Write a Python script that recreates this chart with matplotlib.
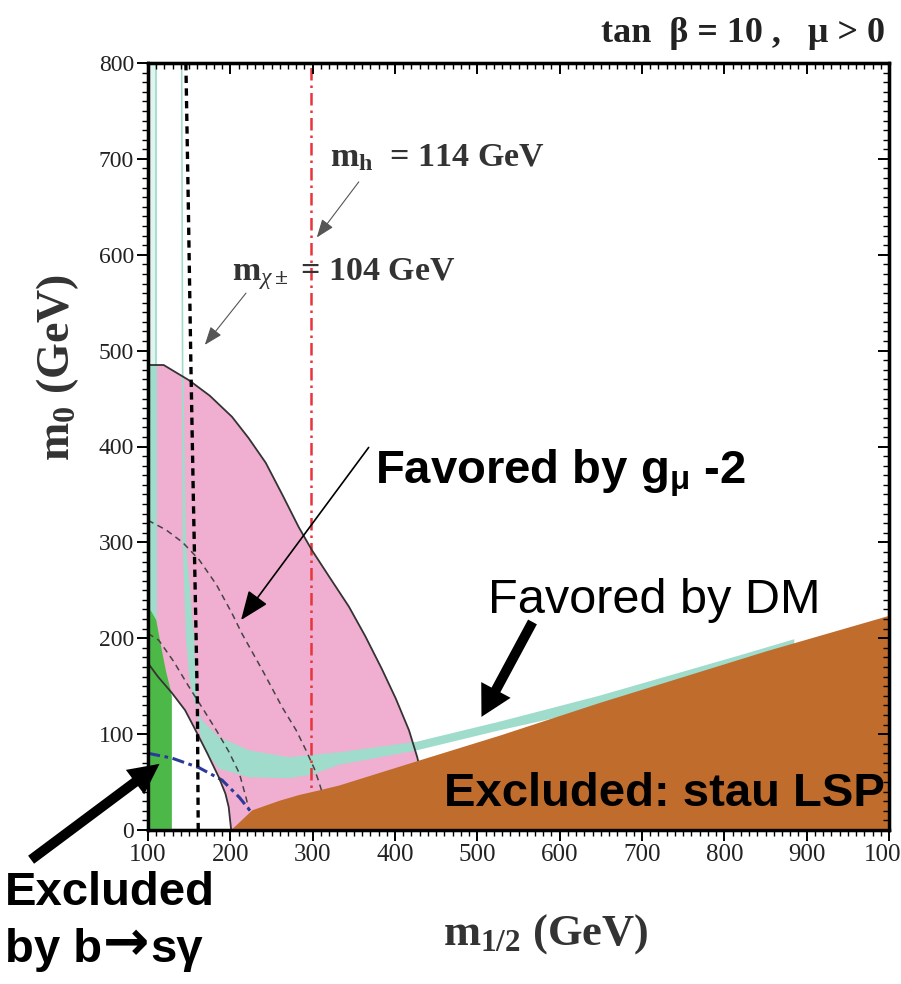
import matplotlib
matplotlib.use("Agg")
import matplotlib.pyplot as plt
from matplotlib.ticker import MultipleLocator

plt.rcParams.update({
    "mathtext.fontset": "custom",
    "mathtext.rm": "Liberation Serif:bold",
    "mathtext.bf": "Liberation Serif:bold",
    "mathtext.it": "Liberation Serif:italic",
    "mathtext.sf": "Liberation Sans:bold",
})

# ---- constraint contours in the (m_1/2, m0) plane, GeV ----
# g_mu - 2 favoured band: outer and inner boundaries
g2_outer_x = [100, 119, 150, 175, 202, 222, 243, 263, 283, 299, 321, 344, 364, 384, 401, 417, 427, 434, 440]
g2_outer_y = [485, 485, 469, 453, 431, 409, 383, 350, 316, 292, 263, 233, 202, 168, 137, 104, 76, 50, 0]
g2_inner_x = [100, 112, 129, 145, 156, 172, 186, 194, 198, 201]
g2_inner_y = [174, 160, 143, 125, 107, 80, 55, 38, 24, 0]

# dashed sub-contours inside the g-2 band
g2_dash1_x = [100, 122, 142, 162, 183, 202, 214, 240, 263, 280, 292, 302, 308, 313]
g2_dash1_y = [323, 313, 300, 282, 256, 226, 205, 165, 128, 104, 83, 64, 49, 35]
g2_dash2_x = [100, 113, 131, 150, 167, 183, 198, 211, 219, 223]
g2_dash2_y = [205, 198, 176, 149, 126, 104, 82, 59, 34, 20]

# stau LSP excluded region (upper edge)
stau_x = [200, 210, 226, 259, 283, 308, 332, 429, 527, 648, 851, 1000]
stau_y = [0, 8, 21, 31, 37, 42, 47, 73, 99, 133, 187, 224]

# dark-matter favoured strip: upper/left and lower/right edges
dm_upper_x = [140, 141, 142, 146, 150, 156, 165, 186, 223, 271, 332, 426, 527, 648, 818, 885]
dm_upper_y = [800, 485, 300, 200, 160, 135, 115, 97, 83, 76, 81, 92, 113, 140, 182, 199]
dm_lower_x = [141.8, 143, 146, 156, 158, 160, 163, 172, 186, 223, 271, 300, 332, 426, 527, 600, 700, 818, 885]
dm_lower_y = [800, 485, 300, 200, 160, 125, 100, 80, 64, 55, 54, 58, 68, 83, 104, 118, 144, 174, 193]
dm_pole_x = [100, 110]          # narrow strip at low m_1/2
dm_pole_y = [0, 485, 800]

# b -> s gamma excluded region
bsg_x = [100, 100, 104, 110, 116, 122, 127, 129, 129]
bsg_y = [0, 232, 228, 219, 191, 165, 148, 139, 0]

# chargino (104 GeV) and Higgs (114 GeV) mass limits
chi_x = [146, 149, 152, 155, 158, 160, 161]
chi_y = [800, 650, 490, 350, 220, 130, 0]
higgs_x = [298, 298]
higgs_y = [0, 800]

# additional dash-dotted contour
blue_x = [100, 129, 162, 190, 211, 225, 228]
blue_y = [80, 75, 65, 52, 34, 19, 15]

PINK = "#f0afd0"
TEAL = "#9fdccb"
GREEN = "#4cb848"
BROWN = "#c06c2d"

W, H = 901, 984
fig = plt.figure(figsize=(W / 100, H / 100), dpi=100)
ax = fig.add_axes([148 / W, 1 - 830 / H, (889 - 148) / W, (830 - 63) / H])
ax.set_xlim(100, 1000)
ax.set_ylim(0, 800)


def fx(px):
    return px / W


def fy(py):
    return 1 - py / H


# g-2 band: between outer and inner contours
band_x = g2_outer_x + g2_inner_x[::-1]
band_y = g2_outer_y + g2_inner_y[::-1]
ax.fill(band_x, band_y, color=PINK, lw=0, zorder=1)

# dark-matter strips
ax.fill(dm_upper_x + dm_lower_x[::-1], dm_upper_y + dm_lower_y[::-1],
        color=TEAL, lw=0, zorder=2)
ax.fill_betweenx([dm_pole_y[0], dm_pole_y[1]], dm_pole_x[0], dm_pole_x[1],
                 color=TEAL, lw=0, zorder=2)
ax.fill_betweenx([dm_pole_y[1], dm_pole_y[2]], dm_pole_x[0], dm_pole_x[1],
                 color=TEAL, alpha=0.3, lw=0, zorder=2)
ax.plot([dm_pole_x[1], dm_pole_x[1]], [dm_pole_y[0], dm_pole_y[2]],
        color=TEAL, lw=1.3, zorder=2)

# b -> s gamma
ax.fill(bsg_x, bsg_y, color=GREEN, lw=0, zorder=3)

# contour lines
ax.plot(higgs_x, higgs_y, color="#e8343a", lw=1.8,
        dashes=(5, 2, 1, 2), zorder=4)
ax.plot(g2_dash1_x, g2_dash1_y, color="#444444", lw=1.1, dashes=(4, 3), zorder=4)
ax.plot(g2_dash2_x, g2_dash2_y, color="#444444", lw=1.1, dashes=(4, 3), zorder=4)
ax.plot(blue_x, blue_y, color="#2b3a9a", lw=2.2, dashes=(4, 1.5, 1.2, 1.5), zorder=4)
ax.plot(g2_outer_x, g2_outer_y, color="#333333", lw=1.3, zorder=4)
ax.plot(g2_inner_x, g2_inner_y, color="#333333", lw=1.3, zorder=4)
ax.plot(chi_x, chi_y, color="black", lw=2.4, dashes=(2.2, 1.6), zorder=4)

# stau LSP
ax.fill_between(stau_x, 0, stau_y, color=BROWN, lw=0, zorder=5)

# ---- axes styling ----
for s in ax.spines.values():
    s.set_linewidth(2.3)
ax.xaxis.set_major_locator(MultipleLocator(100))
ax.xaxis.set_minor_locator(MultipleLocator(10))
ax.yaxis.set_major_locator(MultipleLocator(100))
ax.yaxis.set_minor_locator(MultipleLocator(10))
ax.tick_params(which="major", direction="out", length=8, width=1.4, pad=2,
               labelcolor="#222222")
ax.tick_params(which="minor", direction="out", length=4, width=1.0)
for lab in ax.get_xticklabels():
    lab.set_fontfamily("Liberation Serif")
    lab.set_fontsize(18)
for lab in ax.get_yticklabels():
    lab.set_fontfamily("Liberation Serif")
    lab.set_fontsize(17)

axr = ax.twinx()
axr.set_ylim(0, 800)
axr.yaxis.set_major_locator(MultipleLocator(100))
axr.yaxis.set_minor_locator(MultipleLocator(10))
axr.tick_params(which="major", direction="in", length=8, width=1.4, labelright=False)
axr.tick_params(which="minor", direction="in", length=4, width=1.0)
axt = ax.twiny()
axt.set_xlim(100, 1000)
axt.xaxis.set_major_locator(MultipleLocator(100))
axt.xaxis.set_minor_locator(MultipleLocator(10))
axt.tick_params(which="major", direction="in", length=8, width=1.4, labeltop=False)
axt.tick_params(which="minor", direction="in", length=4, width=1.0)
for a in (axr, axt):
    for s in a.spines.values():
        s.set_linewidth(2.3)

# ---- labels ----
serif = "Liberation Serif"
sans = ["Liberation Sans", "DejaVu Sans"]

fig.text(fx(885), fy(42), r"tan  β = 10 ,   μ > 0", ha="right", va="baseline",
         family=serif, weight="bold", fontsize=26, color="#222222")
fig.text(fx(546), fy(945), r"$\mathbf{m}_{\mathbf{1/2}}$ (GeV)", ha="center",
         va="baseline", family=serif, weight="bold", fontsize=32, color="#333333")
fig.text(fx(58), fy(368), r"$\mathbf{m}_{\mathbf{0}}$ (GeV)", ha="center",
         va="center", rotation=90, family=serif, weight="bold", fontsize=33,
         color="#333333")

fig.text(fx(330), fy(166), r"$\mathbf{m}_{\mathbf{h}}$  = 114 GeV", ha="left",
         va="baseline", family=serif, weight="bold", fontsize=24.5, color="#333333",
         zorder=6)
fig.text(fx(232), fy(280), r"$\mathbf{m}_{\chi\pm}$ = 104 GeV", ha="left",
         va="baseline", family=serif, weight="bold", fontsize=24.5, color="#333333",
         zorder=6)

fig.text(fx(375), fy(484), r"Favored by g$_{\mathsf{μ}}$ -2", ha="left",
         va="baseline", family=sans, weight="bold", fontsize=34, color="black")
fig.text(fx(488), fy(613), "Favored by DM", ha="left", va="baseline",
         family=sans, fontsize=35, color="black")
fig.text(fx(885), fy(806), "Excluded: stau LSP", ha="right", va="baseline",
         family=sans, weight="bold", fontsize=34, color="black", zorder=6)
fig.text(fx(5), fy(905), "Excluded", ha="left", va="baseline",
         family=sans, weight="bold", fontsize=34, color="black")

# "by b→sγ" with a heavy arrow glyph in the middle
t1 = fig.text(fx(5), fy(962), "by b", ha="left", va="baseline",
              family=sans, weight="bold", fontsize=34, color="black")
fig.canvas.draw()
r = fig.canvas.get_renderer()
x1 = t1.get_window_extent(r).x1
t2 = fig.text((x1 + 1) / W, fy(960), "→", ha="left", va="baseline",
              family="DejaVu Sans", weight="bold", fontsize=40, color="black")
x2 = t2.get_window_extent(r).x1
fig.text((x2 + 1) / W, fy(962), "sγ", ha="left", va="baseline",
         family=sans, weight="bold", fontsize=34, color="black")

# ---- arrows ----
ax.annotate("", xy=(305, 618), xytext=(356, 676), zorder=6,
            arrowprops=dict(arrowstyle="-|>,head_length=0.8,head_width=0.3",
                            mutation_scale=14, lw=0.8, color="#555555",
                            shrinkA=0, shrinkB=0))
ax.annotate("", xy=(169, 506), xytext=(219, 560), zorder=6,
            arrowprops=dict(arrowstyle="-|>,head_length=0.8,head_width=0.3",
                            mutation_scale=14, lw=0.8, color="#555555",
                            shrinkA=0, shrinkB=0))
ax.annotate("", xy=(213, 219), xytext=(368, 399), zorder=6,
            arrowprops=dict(arrowstyle="-|>,head_length=1.0,head_width=0.4",
                            mutation_scale=18, lw=1.2, color="black",
                            shrinkA=0, shrinkB=0))
ax.annotate("", xy=(505, 118), xytext=(567, 217), zorder=6, annotation_clip=False,
            arrowprops=dict(arrowstyle="simple,head_length=1.1,head_width=1.2,tail_width=0.36",
                            mutation_scale=20, color="black", lw=0,
                            shrinkA=0, shrinkB=0))
ax.annotate("", xy=(114, 69), xytext=(-42, -31), zorder=6, annotation_clip=False,
            arrowprops=dict(arrowstyle="simple,head_length=1.1,head_width=1.1,tail_width=0.36",
                            mutation_scale=20, color="black", lw=0,
                            shrinkA=0, shrinkB=0))

fig.savefig("out.png", dpi=100)
